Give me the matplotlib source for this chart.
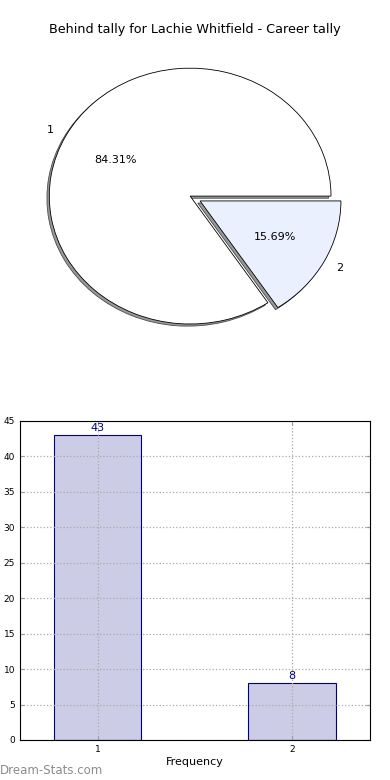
import matplotlib
matplotlib.use("Agg")
import matplotlib.pyplot as plt

title = "Behind tally for Lachie Whitfield - Career tally"
categories = ["1", "2"]
counts = [43, 8]
pie_colors = ["#FFFFFF", "#EBF0FF"]
explode = [0, 0.08]

fig = plt.figure(figsize=(3.9, 7.8), dpi=100)

# Pie
axp = fig.add_axes([0.036, 0.5436, 0.903, 0.410])
wedges, texts, autotexts = axp.pie(
    counts, labels=categories, colors=pie_colors, explode=explode,
    autopct="%1.2f%%", shadow={"ox": -0.012, "oy": -0.012,
                               "facecolor": "#999999", "alpha": 1.0},
    startangle=0, counterclock=True,
    wedgeprops=dict(edgecolor="black", linewidth=0.6),
    textprops=dict(fontsize=8), labeldistance=1.1, pctdistance=0.6)
axp.set_aspect("auto")
axp.set_xlim(-1.25, 1.25)
axp.set_ylim(-1.25, 1.25)
axp.axis("off")
fig.text(0.5, 0.962, title, ha="center", va="center", fontsize=9.2)

# Bar
axb = fig.add_axes([0.0513, 0.0513, 0.897, 0.409])
x = [1, 2]
axb.bar(x, counts, width=0.45, color="#CCCCE6", edgecolor="#000080", linewidth=0.8, zorder=1)
for xi, c in zip(x, counts):
    axb.text(xi, c + 0.3, str(c), ha="center", va="bottom", color="#000080", fontsize=8)
axb.set_xlim(0.6, 2.4)
axb.set_ylim(0, 45)
axb.set_xticks(x)
axb.set_xticklabels(categories)
axb.set_yticks(range(0, 46, 5))
axb.tick_params(labelsize=6.5, direction="in", length=3, top=True, right=True, color="#999999")
axb.grid(True, linestyle=":", color="#AAAAAA", linewidth=0.9)
axb.set_axisbelow(False)
axb.set_xlabel("Frequency", fontsize=8, labelpad=2)
for s in axb.spines.values():
    s.set_linewidth(0.8)
    s.set_zorder(5)

fig.text(0.0, 0.012, "Dream-Stats.com", fontsize=8.5, color="#8C8C8C", ha="left", va="center")

fig.savefig("out.png", dpi=100)
